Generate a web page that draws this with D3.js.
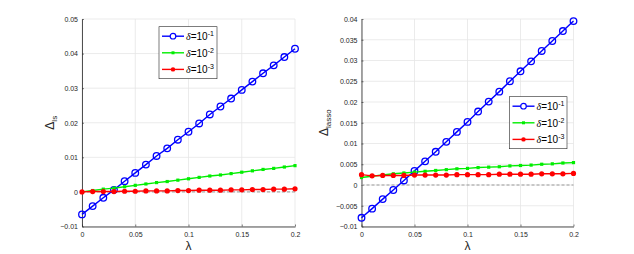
<!DOCTYPE html>
<html>
<head>
<meta charset="utf-8">
<script src="https://cdn.jsdelivr.net/npm/d3@7"></script>
<style>
  body { margin: 0; background: #fff; }
  svg { display: block; font-family: "Liberation Sans", Arial, sans-serif; }
</style>
</head>
<body>
<svg width="634" height="254"></svg>
<script>
// lambda grid, shared by both panels
const lambda = [0, 0.01, 0.02, 0.03, 0.04, 0.05, 0.06, 0.07, 0.08, 0.09, 0.1,
                0.11, 0.12, 0.13, 0.14, 0.15, 0.16, 0.17, 0.18, 0.19, 0.2];

// left panel: Delta_ls
const lsD1 = [-0.0065, -0.0041, -0.0017, 0.0006, 0.0031, 0.0055, 0.0079, 0.0104, 0.0126, 0.0151, 0.0174,
              0.0198, 0.0224, 0.0247, 0.0270, 0.0295, 0.0319, 0.0343, 0.0366, 0.0390, 0.0414];
const lsD2 = [0, 0.0004, 0.0008, 0.0011, 0.0015, 0.0019, 0.0023, 0.0027, 0.0030, 0.0034, 0.0038,
              0.0042, 0.0046, 0.0049, 0.0053, 0.0057, 0.0061, 0.0065, 0.0068, 0.0072, 0.0076];
const lsD3 = [0, 0.0001, 0.0001, 0.0001, 0.0002, 0.0002, 0.0003, 0.0003, 0.0003, 0.0004, 0.0004,
              0.0005, 0.0005, 0.0005, 0.0006, 0.0006, 0.0007, 0.0007, 0.0008, 0.0008, 0.0009];

// right panel: Delta_lasso
const lassoD1 = [-0.0079, -0.0057, -0.0034, -0.0012, 0.0011, 0.0034, 0.0057, 0.0080, 0.0104, 0.0128, 0.0152,
                 0.0177, 0.0201, 0.0225, 0.0250, 0.0274, 0.0298, 0.0323, 0.0347, 0.0371, 0.0395];
const lassoD2 = [0.0018, 0.0021, 0.0024, 0.0027, 0.0029, 0.0031, 0.0033, 0.0035, 0.0037, 0.0039, 0.0040,
                 0.0042, 0.0043, 0.0044, 0.0046, 0.0047, 0.0048, 0.0050, 0.0051, 0.0053, 0.0054];
const lassoD3 = [0.0025, 0.0022, 0.0023, 0.0023, 0.0023, 0.0024, 0.0024, 0.0024, 0.0024, 0.0025, 0.0025,
                 0.0025, 0.0025, 0.0026, 0.0026, 0.0026, 0.0026, 0.0027, 0.0027, 0.0027, 0.0028];

const xTicks = [0, 0.05, 0.1, 0.15, 0.2];
const xTickLabels = ["0", "0.05", "0.1", "0.15", "0.2"];
const lsTicks = [-0.01, 0, 0.01, 0.02, 0.03, 0.04, 0.05];
const lassoTicks = [-0.01, -0.005, 0, 0.005, 0.01, 0.015, 0.02, 0.025, 0.03, 0.035, 0.04];
const legendLabels = ["-1", "-2", "-3"];

const colors = ["#0000ff", "#00ee00", "#ff0000"];
const markers = ["circle", "square", "dot"];

const svg = d3.select("svg");

const drawPanel = (opts) => {
    const {left, right, top, bottom, yDomain, yTicks, series, sub, legend, labelX} = opts;
    const g = svg.append("g");

    const x = d3.scaleLinear().domain([0, 0.2]).range([left, right]);
    const y = d3.scaleLinear().domain(yDomain).range([bottom, top]);

    // grid
    g.selectAll(".gx").data(xTicks).join("line")
      .attr("x1", d => x(d)).attr("x2", d => x(d))
      .attr("y1", top).attr("y2", bottom)
      .attr("stroke", "#e6e6e6").attr("stroke-width", 0.8);
    g.selectAll(".gy").data(yTicks).join("line")
      .attr("x1", left).attr("x2", right)
      .attr("y1", d => y(d)).attr("y2", d => y(d))
      .attr("stroke", "#e6e6e6").attr("stroke-width", 0.8);

    // axes
    const xAxis = g.append("g").attr("transform", `translate(0,${bottom})`)
      .call(d3.axisBottom(x).tickValues(xTicks).tickSizeInner(-2).tickSizeOuter(0)
            .tickPadding(6).tickFormat((d, i) => xTickLabels[i]));
    const yAxis = g.append("g").attr("transform", `translate(${left},0)`)
      .call(d3.axisLeft(y).tickValues(yTicks).tickSizeInner(-2).tickSizeOuter(0)
            .tickPadding(4).tickFormat(d => d === 0 ? "0" : d3.format("")(+d.toFixed(3))));
    [xAxis, yAxis].forEach(a => {
        a.select(".domain").attr("stroke", "#262626").attr("stroke-width", 0.8);
        a.selectAll(".tick line").attr("stroke", "#262626").attr("stroke-width", 0.6);
        a.selectAll("text").attr("fill", "#262626").style("font-size", "7px")
          .style("font-family", "Liberation Sans, Arial, sans-serif");
    });

    // zero reference line
    g.append("line")
      .attr("x1", x(0)).attr("x2", x(0.2))
      .attr("y1", y(0)).attr("y2", y(0))
      .attr("stroke", "#999").attr("stroke-width", 1)
      .attr("stroke-dasharray", "3,2");

    const line = d3.line().x((d, i) => x(lambda[i])).y(d => y(d));

    series.forEach((vals, k) => {
        g.append("path").datum(vals)
          .attr("d", line).attr("fill", "none")
          .attr("stroke", colors[k]).attr("stroke-width", 1.4);
        const pts = g.selectAll(null).data(vals).enter();
        if (markers[k] === "circle") {
            pts.append("circle")
              .attr("cx", (d, i) => x(lambda[i])).attr("cy", d => y(d))
              .attr("r", 3.3).attr("fill", "none")
              .attr("stroke", colors[k]).attr("stroke-width", 1.3);
        } else if (markers[k] === "square") {
            pts.append("rect")
              .attr("x", (d, i) => x(lambda[i]) - 1.6).attr("y", d => y(d) - 1.6)
              .attr("width", 3.2).attr("height", 3.2)
              .attr("fill", colors[k]);
        } else {
            pts.append("circle")
              .attr("cx", (d, i) => x(lambda[i])).attr("cy", d => y(d))
              .attr("r", 2.6).attr("fill", colors[k]);
        }
    });

    // axis labels
    g.append("text")
      .attr("x", (left + right) / 2).attr("y", 250)
      .attr("text-anchor", "middle").attr("fill", "#262626")
      .style("font-size", "12px").text("λ");

    const yl = g.append("text")
      .attr("transform", `translate(${labelX},${(top + bottom) / 2}) rotate(-90)`)
      .attr("text-anchor", "middle").attr("fill", "#262626")
      .style("font-size", "12px");
    yl.append("tspan").text("Δ");
    yl.append("tspan").attr("dy", 3).style("font-size", "8px").text(sub);

    // legend
    const lg = g.append("g").attr("transform", `translate(${legend.x},${legend.y})`);
    lg.append("rect").attr("width", legend.w).attr("height", 52)
      .attr("fill", "#fff").attr("stroke", "#262626").attr("stroke-width", 0.6);
    legendLabels.forEach((lab, k) => {
        const ry = 9.5 + k * 16.6;
        lg.append("line").attr("x1", 3).attr("x2", 25).attr("y1", ry).attr("y2", ry)
          .attr("stroke", colors[k]).attr("stroke-width", 1.4);
        if (markers[k] === "circle") {
            lg.append("circle").attr("cx", 14).attr("cy", ry).attr("r", 2.8)
              .attr("fill", "#fff").attr("stroke", colors[k]).attr("stroke-width", 1.2);
        } else if (markers[k] === "square") {
            lg.append("rect").attr("x", 12.5).attr("y", ry - 1.5).attr("width", 3).attr("height", 3)
              .attr("fill", colors[k]);
        } else {
            lg.append("circle").attr("cx", 14).attr("cy", ry).attr("r", 2.2).attr("fill", colors[k]);
        }
        const t = lg.append("text").attr("x", 27).attr("y", ry + 4)
          .attr("fill", "#000").style("font-size", "10px");
        t.append("tspan").style("font-style", "italic")
          .style("font-family", "Liberation Serif, serif").text("δ");
        t.append("tspan").text("=10");
        t.append("tspan").attr("dy", -4).style("font-size", "7px").text(lab);
    });
};

drawPanel({
    left: 82, right: 295, top: 19, bottom: 226.5,
    yDomain: [-0.01, 0.05], yTicks: lsTicks,
    series: [lsD1, lsD2, lsD3], sub: "ls", labelX: 54,
    legend: {x: 159, y: 26.7, w: 58}
});

drawPanel({
    left: 361.5, right: 573.5, top: 19, bottom: 226.5,
    yDomain: [-0.01, 0.04], yTicks: lassoTicks,
    series: [lassoD1, lassoD2, lassoD3], sub: "lasso", labelX: 328,
    legend: {x: 509.5, y: 96.7, w: 57.5}
});
</script>
</body>
</html>
